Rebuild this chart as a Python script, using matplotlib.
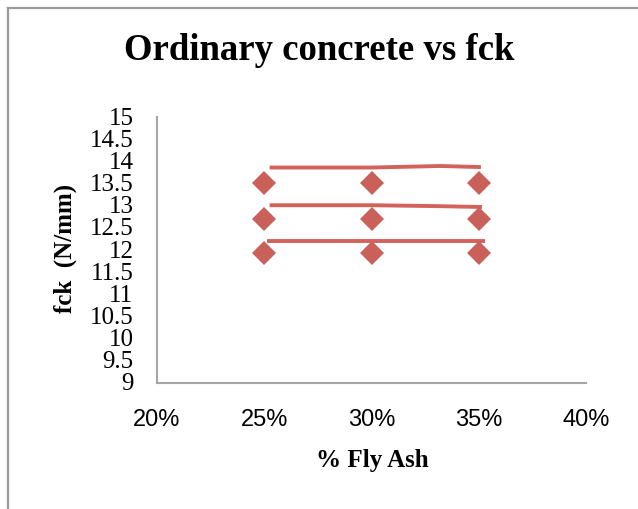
import matplotlib
matplotlib.use("Agg")
import matplotlib.pyplot as plt
from matplotlib.lines import Line2D
from matplotlib.ticker import FuncFormatter, MultipleLocator
from matplotlib.transforms import ScaledTranslation

# Measured compressive strength at each fly-ash replacement level
fly_ash = [0.25, 0.30, 0.35]
fck_a = [13.52, 13.52, 13.52]
fck_b = [12.71, 12.71, 12.71]
fck_c = [11.93, 11.93, 11.93]

# Hand-drawn guide lines over each group of points
guide_top_x = [0.2525, 0.30, 0.332, 0.351]
guide_top_y = [13.86, 13.86, 13.895, 13.87]
guide_mid_x = [0.2525, 0.30, 0.33, 0.3515]
guide_mid_y = [13.01, 13.01, 12.99, 12.97]
guide_low_x = [0.2515, 0.353]
guide_low_y = [12.20, 12.20]

title = "Ordinary concrete vs fck"
x_label = "% Fly Ash"
y_label = "fck  (N/mm)"

W, H = 638, 509
fig = plt.figure(figsize=(W / 100, H / 100), dpi=100)
ax = fig.add_axes([157 / W, 1 - 383 / H, 429 / W, 266 / H])

marker_color = "#C9605A"
line_color = "#D3625D"

for gx, gy in [(guide_top_x, guide_top_y), (guide_mid_x, guide_mid_y), (guide_low_x, guide_low_y)]:
    ax.plot(gx, gy, color=line_color, lw=2.8, solid_capstyle="butt", zorder=2)

for ys in (fck_a, fck_b, fck_c):
    ax.plot(fly_ash, ys, linestyle="none", marker="D", markersize=12.5,
            color=marker_color, markeredgewidth=0, zorder=3)

ax.set_xlim(0.20, 0.40)
ax.set_ylim(9, 15)
ax.xaxis.set_major_locator(MultipleLocator(0.05))
ax.yaxis.set_major_locator(MultipleLocator(0.5))
ax.xaxis.set_major_formatter(FuncFormatter(lambda v, p: f"{round(v * 100):d}%"))
ax.yaxis.set_major_formatter(FuncFormatter(lambda v, p: f"{v:g}"))

for s in ("top", "right"):
    ax.spines[s].set_visible(False)
for s in ("left", "bottom"):
    ax.spines[s].set_color("#a6a6a6")
    ax.spines[s].set_linewidth(1.5)

ax.tick_params(axis="x", length=0, pad=19, labelsize=17)
ax.tick_params(axis="y", length=0, pad=17, labelsize=18)
for t in ax.get_xticklabels():
    t.set_fontfamily("Liberation Sans")
label_shift = ScaledTranslation(0, -1.5 / 100, fig.dpi_scale_trans)
for t in ax.get_yticklabels():
    t.set_fontfamily("Liberation Serif")
    t.set_va("center")
    t.set_transform(t.get_transform() + label_shift)

fig.text(319 / W, 1 - 51 / H, title, ha="center", va="center",
         fontsize=26.5, fontweight="bold", family="Liberation Serif")
fig.text(372 / W, 1 - 460 / H, x_label, ha="center", va="center",
         fontsize=18, fontweight="bold", family="Liberation Serif")
fig.text(65 / W, 1 - 248 / H, y_label, ha="center", va="center", rotation=90,
         fontsize=18, fontweight="bold", family="Liberation Serif")

# Outer chart frame (top and left edges)
frame_kw = dict(color="#9a9a9a", lw=1.6, transform=None)
fig.add_artist(Line2D([7.5, W], [H - 8, H - 8], **frame_kw))
fig.add_artist(Line2D([7.5, 7.5], [0, H - 8], **frame_kw))

fig.savefig("out.png", dpi=100)
